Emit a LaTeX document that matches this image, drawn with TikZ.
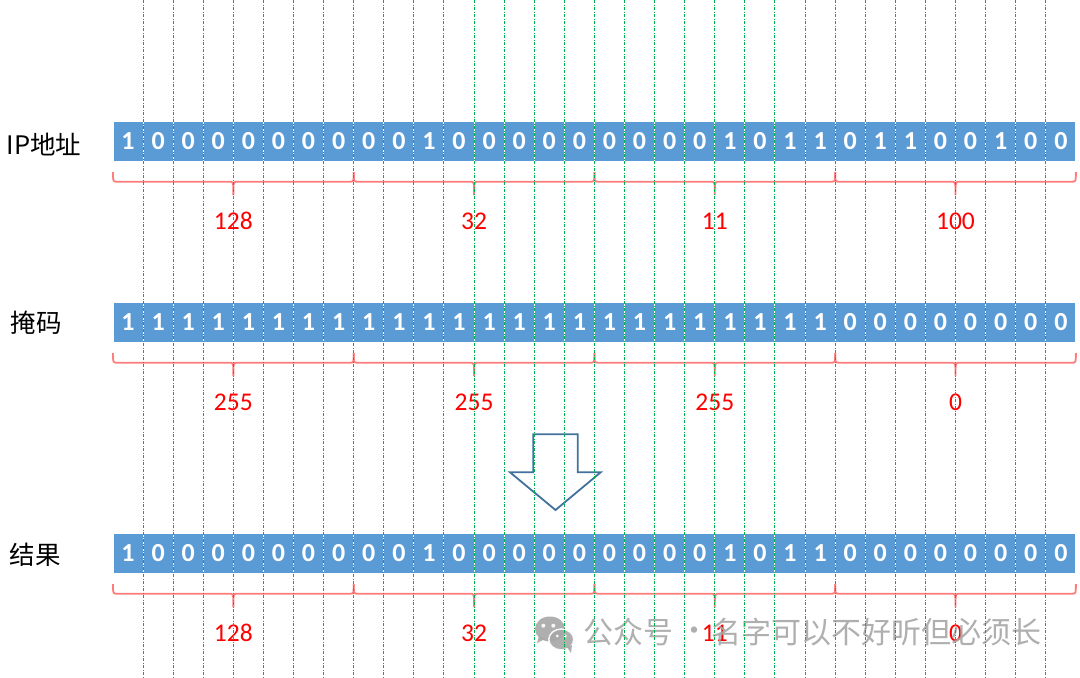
\documentclass[tikz,border=0pt]{standalone}
\usepackage{fontspec}
\setmainfont{Carlito}
\newfontfamily\cjk{Noto Sans CJK SC}
\definecolor{cellblue}{HTML}{5B9BD5}
\definecolor{gridgreen}{HTML}{00B050}
\definecolor{bracered}{HTML}{FF7C7C}
\definecolor{arrowblue}{HTML}{41719C}
\definecolor{markgray}{HTML}{A6A6A6}
\tikzset{
  bit/.style={fill=cellblue, draw=white, line width=1pt, minimum width=30.09pt,
    minimum height=40pt, inner sep=0pt, text=white,
    font=\bfseries\fontsize{26}{26}\selectfont},
  byteval/.style={text=red, inner sep=0pt, font=\fontsize{25.5}{25.5}\selectfont},
  rowname/.style={anchor=west, inner sep=0pt, font=\cjk\fontsize{25.5}{25.5}\selectfont},
  gridline/.style={gridgreen, line width=1pt, dash pattern=on 3pt off 1.5pt on 1pt off 1.5pt},
  bytebrace/.style={bracered, line width=1.8pt},
  watermark/.style={text=markgray, inner sep=0pt, font=\cjk\fontsize{30}{30}\selectfont}
}
\begin{document}
\begin{tikzpicture}[x=1pt,y=-1pt]
  \useasboundingbox (0,0) rectangle (1080,678);
  \foreach \row/\yc/\bits in {
      ip/141/{1,0,0,0,0,0,0,0,0,0,1,0,0,0,0,0,0,0,0,0,1,0,1,1,0,1,1,0,0,1,0,0},
      mask/322/{1,1,1,1,1,1,1,1,1,1,1,1,1,1,1,1,1,1,1,1,1,1,1,1,0,0,0,0,0,0,0,0},
      res/553/{1,0,0,0,0,0,0,0,0,0,1,0,0,0,0,0,0,0,0,0,1,0,1,1,0,0,0,0,0,0,0,0}}
    \foreach \b [count=\k] in \bits
      \node[bit] (\row-\k) at ({113+(\k-0.5)*30.09},\yc) {\b};
  \node[rowname] (ipname) at (6.5,145) {IP地址};
  \node[rowname] (maskname) at (10.3,322.5) {掩码};
  \node[rowname] (resname) at (9.7,555) {结果};
  \foreach \row/\yc/\vals in {ip/141/{128,32,11,100}, mask/322/{255,255,255,0},
      res/553/{128,32,11,0}}
    \foreach \v [count=\j] in \vals {
      \pgfmathsetmacro\xa{113+(\j-1)*8*30.09}
      \pgfmathsetmacro\xb{\xa+8*30.09}
      \pgfmathsetmacro\xc{(\xa+\xb)/2}
      \pgfmathsetmacro\yt{\yc+31}
      \pgfmathsetmacro\ym{\yc+40.7}
      \pgfmathsetmacro\yb{\yc+54}
      \draw[bytebrace] (\xa,\yt) .. controls (\xa,\ym) .. ({\xa+4},\ym)
        -- ({\xc-4},\ym) .. controls (\xc,\ym) .. (\xc,\yb)
        .. controls (\xc,\ym) .. ({\xc+4},\ym)
        -- ({\xb-4},\ym) .. controls (\xb,\ym) .. (\xb,\yt);
      \node[byteval] (\row-v\j) at (\xc,{\yc+80}) {\v};
    }
  \draw[arrowblue, line width=1.8pt, line join=miter]
    (533.3,434.3) -- (577.7,434.3) -- (577.7,472.3) -- (600.7,472.3)
    -- (555.5,510) -- (510,472.3) -- (533.3,472.3) -- cycle;
  \begin{scope}[opacity=0.9]
    \fill[markgray] (550,629) ellipse [x radius=15, y radius=12.5];
    \fill[markgray] (539,636) -- (537,643) -- (545,639) -- cycle;
    \fill[white] (543.3,625.7) circle [radius=2] (553.3,625.7) circle [radius=2];
    \filldraw[fill=markgray, draw=white, line width=1.5pt]
      (561.3,639.5) ellipse [x radius=12.5, y radius=10.5];
    \fill[markgray] (567,647) -- (571,653) -- (572,645) -- cycle;
    \fill[white] (557.3,636) circle [radius=1.6] (565.3,636) circle [radius=1.6];
    \node[watermark, anchor=west] (wmhead) at (583,632) {公众号};
    \node[watermark] (wmdot) at (694,634) {·};
    \node[watermark, anchor=west] (wmname) at (711.5,632) {名字可以不好听但必须长};
  \end{scope}
  \foreach \k in {1,...,31}
    \draw[gridline] ({113+\k*30.09},0) -- ({113+\k*30.09},678);
\end{tikzpicture}
\end{document}
